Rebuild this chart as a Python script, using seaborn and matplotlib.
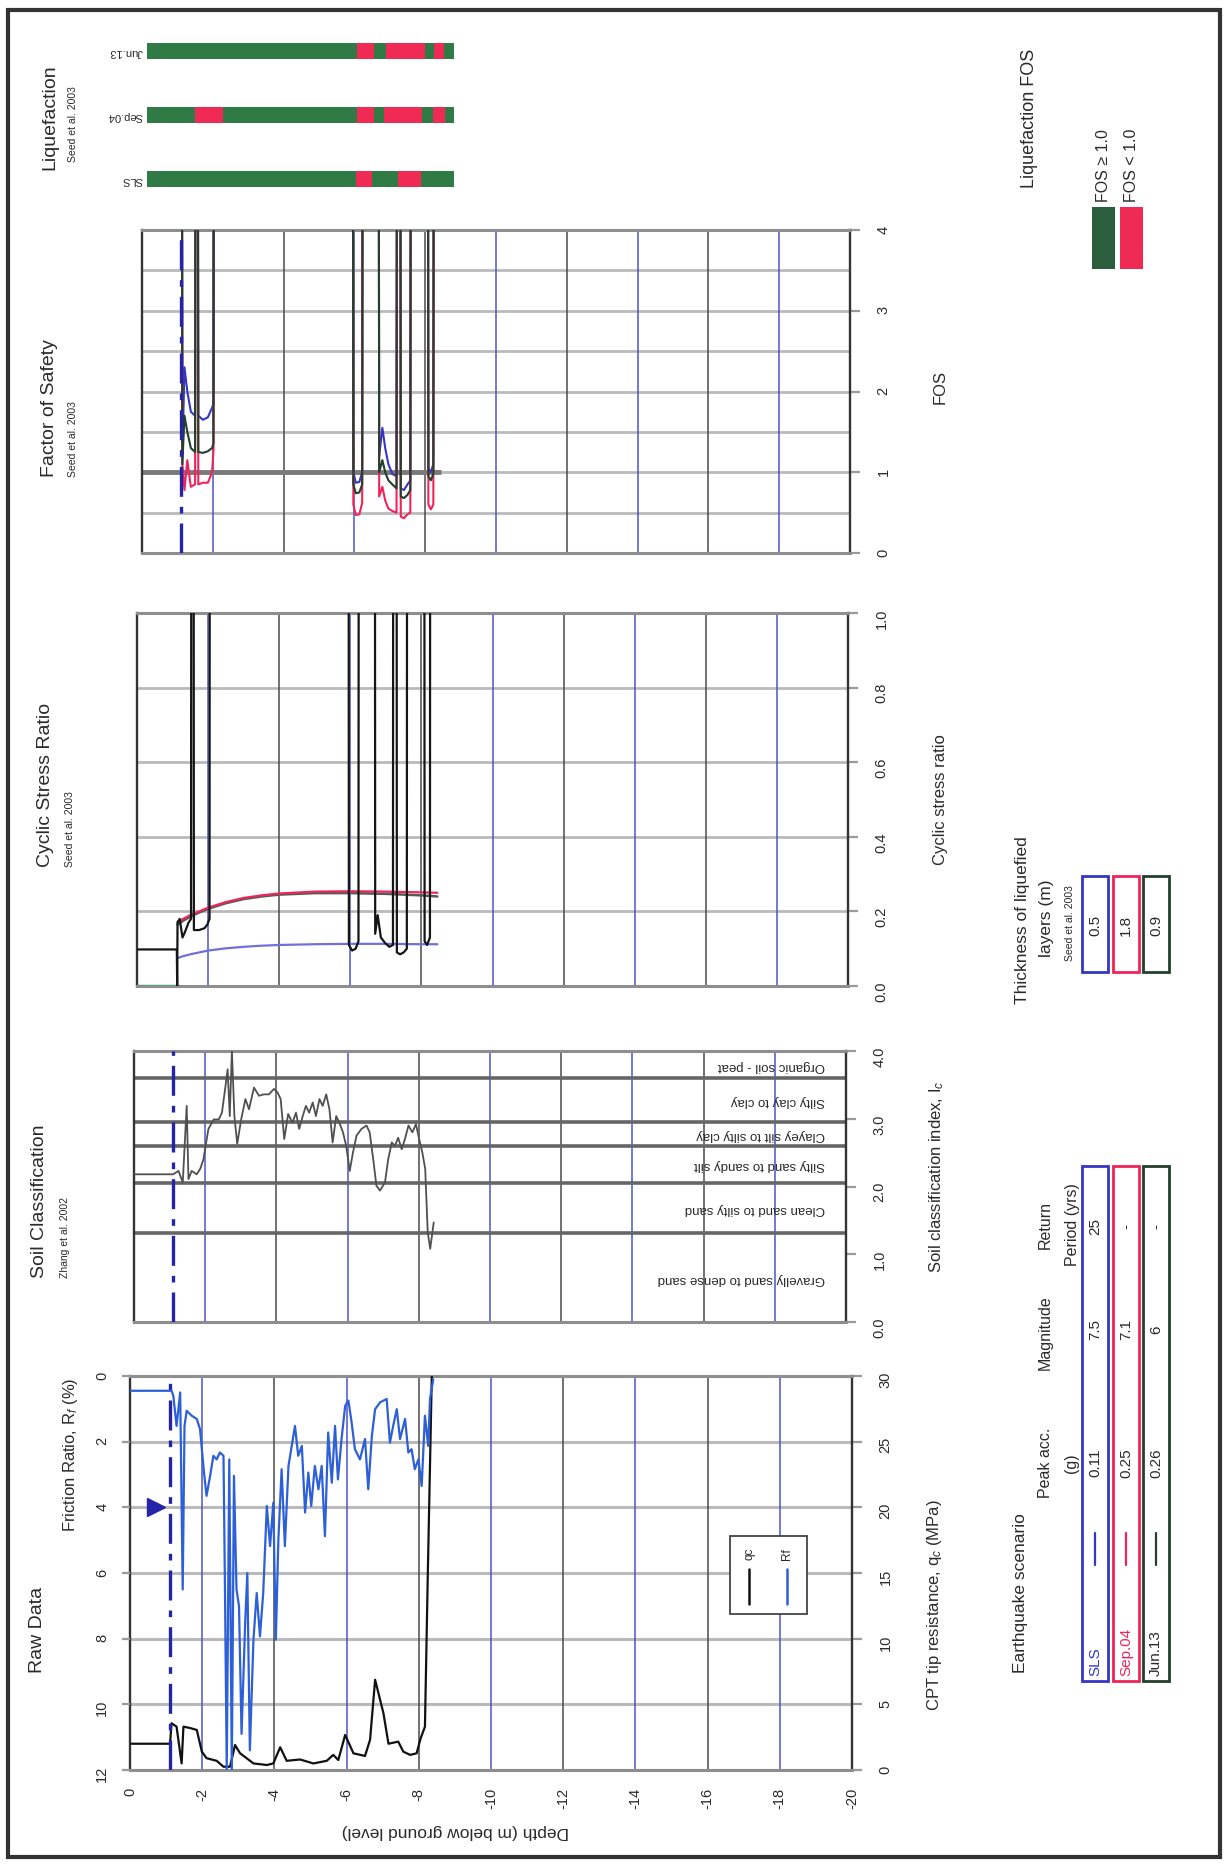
import numpy as np
import pandas as pd
import seaborn as sns
import matplotlib.pyplot as plt
from matplotlib.patches import Rectangle
from matplotlib.lines import Line2D

# ---- data (depth in m, negative downwards) ----
depth_ticks = [0, -2, -4, -6, -8, -10, -12, -14, -16, -18, -20]
wt_depth = -1.1          # ground water table
wt_marker_rf = 4.0

qc_depth = [0.00, -1.11, -1.15, -1.29, -1.43, -1.48, -1.66, -1.85, -1.99, -2.12, -2.40, -2.59, -2.77, -2.91,
            -3.05, -3.23, -3.42, -3.79, -3.97, -4.16, -4.34, -4.71, -5.08, -5.45, -5.63, -5.77, -5.96, -6.19,
            -6.51, -6.65, -6.79, -7.02, -7.16, -7.43, -7.57, -7.76, -7.94, -8.05, -8.17, -8.25, -8.36]
qc = [2.0, 2.0, 3.56, 3.3, 0.5, 3.3, 3.2, 3.05, 1.4, 0.9, 0.7, 0.25, 0.25, 1.9,
      1.27, 0.9, 0.5, 0.38, 0.5, 1.73, 0.7, 0.8, 0.5, 0.7, 1.15, 0.76, 2.67, 1.27,
      1.07, 2.3, 6.87, 4.33, 2.0, 2.16, 1.4, 1.15, 1.27, 2.4, 3.3, 15.0, 30.0]

rf_depth = [0.00, -1.15, -1.20, -1.29, -1.39, -1.46, -1.51, -1.57, -1.71, -1.85,
            -1.94, -2.05, -2.12, -2.22, -2.31, -2.40, -2.49, -2.59, -2.63, -2.68,
            -2.75, -2.82, -2.88, -2.95, -3.02, -3.09, -3.19, -3.25, -3.32, -3.42,
            -3.51, -3.60, -3.69, -3.79, -3.88, -3.97, -4.04, -4.11, -4.20, -4.29,
            -4.39, -4.48, -4.57, -4.66, -4.76, -4.85, -4.94, -5.02, -5.12, -5.22,
            -5.31, -5.40, -5.49, -5.59, -5.68, -5.76, -5.86, -5.96, -6.05, -6.14,
            -6.23, -6.37, -6.51, -6.60, -6.70, -6.79, -6.93, -7.11, -7.20, -7.29,
            -7.39, -7.48, -7.62, -7.71, -7.80, -7.89, -7.99, -8.08, -8.17, -8.26,
            -8.31, -8.40]
rf = [0.45, 0.45, 0.60, 1.52, 0.50, 6.50, 1.52, 1.06, 1.21, 1.31,
      1.62, 2.94, 3.65, 3.04, 2.43, 2.54, 2.33, 2.43, 6.40, 12.0,
      2.54, 12.0, 3.04, 6.50, 7.01, 10.9, 7.52, 6.00, 11.4, 8.03,
      6.61, 7.93, 6.61, 3.96, 5.18, 3.86, 8.03, 4.98, 2.84, 5.18,
      2.74, 2.13, 1.52, 2.43, 2.13, 4.16, 2.94, 3.96, 2.74, 3.45,
      2.74, 4.88, 1.72, 3.25, 1.52, 3.15, 1.92, 0.91, 0.75, 1.42,
      2.23, 2.54, 1.92, 3.45, 1.82, 1.01, 0.80, 0.70, 2.03, 1.52,
      1.01, 1.92, 1.31, 2.33, 2.23, 2.84, 2.54, 3.35, 1.21, 2.13,
      0.70, 0.10]

ic_depth = [0.00, -1.10, -1.25, -1.37, -1.48, -1.53, -1.62, -1.76, -1.86, -1.95,
            -2.09, -2.24, -2.38, -2.47, -2.57, -2.63, -2.69, -2.75, -2.82, -2.90,
            -3.01, -3.13, -3.23, -3.37, -3.51, -3.65, -3.79, -3.93, -4.03, -4.12,
            -4.22, -4.33, -4.45, -4.55, -4.64, -4.74, -4.83, -4.92, -5.02, -5.11,
            -5.21, -5.30, -5.40, -5.49, -5.58, -5.68, -5.77, -5.87, -5.96, -6.06,
            -6.15, -6.25, -6.39, -6.53, -6.62, -6.72, -6.81, -6.91, -7.05, -7.14,
            -7.24, -7.33, -7.42, -7.52, -7.61, -7.71, -7.82, -7.92, -8.01, -8.10,
            -8.18, -8.25, -8.32, -8.42]
ic = [2.18, 2.18, 2.23, 2.06, 3.19, 2.11, 2.23, 2.18, 2.26, 2.40,
      2.85, 2.99, 2.99, 3.09, 3.48, 3.73, 3.04, 4.0, 3.04, 2.63,
      2.99, 3.29, 3.14, 3.46, 3.34, 3.36, 3.36, 3.44, 3.39, 3.29,
      2.70, 3.07, 2.94, 3.09, 2.85, 3.04, 3.19, 3.09, 3.24, 3.04,
      3.29, 3.19, 3.36, 3.14, 2.65, 3.04, 2.94, 2.80, 2.60, 2.23,
      2.50, 2.75, 2.85, 2.90, 2.80, 2.40, 2.01, 1.94, 2.06, 2.40,
      2.65, 2.60, 2.72, 2.55, 2.70, 2.90, 2.80, 2.92, 2.70, 2.50,
      2.26, 1.33, 1.08, 1.47]

zone_bounds = [0.0, 1.31, 2.05, 2.60, 2.95, 3.60, 4.0]
zone_names = ['Gravelly sand to dense sand', 'Clean sand to silty sand', 'Silty sand to sandy silt',
              'Clayey silt to silty clay', 'Silty clay to clay', 'Organic soil - peat']

# cyclic stress ratio per scenario and cyclic resistance (off-chart values = 2)
csr_depth = [-1.14, -1.3, -1.5, -1.75, -2.0, -2.5, -3.0, -3.5, -4.0, -5.0, -6.0, -7.0, -8.0, -8.45]
csr_sls = [0.075, 0.08, 0.085, 0.09, 0.095, 0.101, 0.105, 0.108, 0.11, 0.112, 0.113, 0.113, 0.112, 0.112]
csr_sep04 = [0.172, 0.18, 0.19, 0.20, 0.21, 0.225, 0.236, 0.243, 0.248, 0.253, 0.254, 0.253, 0.251, 0.25]
csr_jun13 = [0.165, 0.175, 0.186, 0.197, 0.207, 0.222, 0.233, 0.24, 0.245, 0.249, 0.249, 0.247, 0.243, 0.24]
csr_dry_depth = [0.0, -1.13]
csr_dry = [0.0, 0.0]

crr_depth = [0, -1.12, -1.13, -1.14, -1.20, -1.28, -1.35, -1.45, -1.52, -1.53, -1.59, -1.60, -1.75, -1.90, -1.98, -2.04, -2.05,
             -5.95, -5.96, -6.05, -6.15, -6.23, -6.24,
             -6.69, -6.70, -6.77, -6.86, -6.98, -7.10, -7.20, -7.21,
             -7.30, -7.31, -7.40, -7.50, -7.59, -7.60,
             -8.08, -8.09, -8.16, -8.24, -8.25]
crr = [0.098, 0.098, 0.0, 0.17, 0.18, 0.13, 0.145, 0.17, 0.18, 2, 2, 0.15, 0.15, 0.155, 0.165, 0.18, 2,
       2, 0.11, 0.095, 0.10, 0.12, 2,
       2, 0.14, 0.19, 0.13, 0.115, 0.105, 0.11, 2,
       2, 0.09, 0.085, 0.09, 0.10, 2,
       2, 0.12, 0.11, 0.13, 2]

# factor of safety per scenario (off-chart values = 5)
fos_depth = [-1.13, -1.14, -1.20, -1.28, -1.38, -1.50, -1.51, -1.58, -1.59, -1.72, -1.86, -1.98, -2.02, -2.03,
             -5.96, -5.97, -6.04, -6.14, -6.22, -6.23,
             -6.69, -6.70, -6.79, -6.87, -6.96, -7.07, -7.19, -7.20,
             -7.30, -7.31, -7.40, -7.50, -7.58, -7.59,
             -8.08, -8.09, -8.16, -8.23, -8.24]
fos_sls = [5, 1.2, 2.3, 2.0, 1.75, 1.7, 5, 5, 1.7, 1.65, 1.68, 1.8, 1.85, 5,
           5, 1.0, 0.87, 0.88, 1.0, 5,
           5, 1.2, 1.55, 1.3, 1.1, 0.98, 0.95, 5,
           5, 0.8, 0.78, 0.85, 0.9, 5,
           5, 1.05, 1.0, 1.1, 5]
fos_sep04 = [5, 1.1, 0.78, 1.15, 0.82, 0.85, 5, 5, 0.85, 0.87, 0.87, 1.0, 1.28, 5,
             5, 0.6, 0.47, 0.48, 0.62, 5,
             5, 0.7, 0.82, 0.65, 0.55, 0.52, 0.5, 5,
             5, 0.45, 0.43, 0.48, 0.5, 5,
             5, 0.6, 0.54, 0.6, 5]
fos_jun13 = [5, 1.1, 1.7, 1.5, 1.3, 1.25, 5, 5, 1.25, 1.24, 1.26, 1.3, 1.36, 5,
             5, 0.85, 0.74, 0.75, 0.85, 5,
             5, 1.0, 1.15, 1.0, 0.9, 0.85, 0.8, 5,
             5, 0.7, 0.68, 0.72, 0.78, 5,
             5, 0.95, 0.9, 0.98, 5]
fos_limit = 1.0
fos_line_end = -8.45

# liquefaction strips
liq_names = ['Jun.13', 'Sep.04', 'SLS']
liq_end = -8.65
liq_red = [[(-5.91, -6.39), (-6.72, -7.82), (-8.09, -8.37)],
           [(-1.34, -2.13), (-5.91, -6.39), (-6.67, -7.76), (-8.07, -8.40)],
           [(-5.88, -6.33), (-7.06, -7.73)]]

# earthquake scenarios
eq_names = ['SLS', 'Sep.04', 'Jun.13']
peak_acc = [0.11, 0.25, 0.26]
magnitude = [7.5, 7.1, 6]
return_period = ['25', '-', '-']
thickness_m = [0.5, 1.8, 0.9]

C_SLS, C_SEP, C_JUN = '#3436c4', '#f0245a', '#22402b'
eq_colors = [C_SLS, C_SEP, C_JUN]
C_RF = '#2d5fd8'
C_WT = '#2424a8'
GRID = '#bababa'
TXT = '#2a2a2a'
VCOL = ['#4a55c8', '#4a4a4a']

sns.set_theme(style='white')
plt.rcParams['font.family'] = ['Liberation Sans', 'DejaVu Sans']
plt.rcParams['mathtext.fontset'] = 'custom'
plt.rcParams['mathtext.rm'] = 'Liberation Sans'
plt.rcParams['mathtext.it'] = 'Liberation Sans:italic'

W, H = 1224, 1865
fig = plt.figure(figsize=(W / 100, H / 100), dpi=100)


def box(x1, y1, x2, y2):
    return [x1 / W, 1 - y2 / H, (x2 - x1) / W, (y2 - y1) / H]


def put(x, y, s, **kw):
    kw.setdefault('color', TXT)
    return fig.text(x / W, 1 - y / H, s, **kw)


def vtitle(x, y, s, size, **kw):
    # rotated text starting at y (bottom) and running upwards
    return put(x, y, s, rotation=90, rotation_mode='anchor', ha='left', va='center', fontsize=size, **kw)


def vlabel(x, y, s, size, **kw):
    return put(x, y, s, rotation=90, ha='center', va='center', fontsize=size, **kw)


def frame(x1, y1, x2, y2, **kw):
    fig.add_artist(Rectangle((x1 / W, 1 - y2 / H), (x2 - x1) / W, (y2 - y1) / H,
                             transform=fig.transFigure, **kw))


def right_ticks(ax):
    ax.yaxis.tick_right()
    ax.tick_params(axis='y', labelrotation=90, length=7, color='#9a9a9a', width=1.6,
                   pad=12, labelsize=10.5, labelcolor=TXT, left=False, right=True,
                   labelleft=False, labelright=True)


def style_panel(ax, ylim, yticks, ylabels):
    ax.set_xlim(0, -20)
    ax.set_ylim(*ylim)
    ax.set_axisbelow(True)
    for s in ['left', 'right']:
        ax.spines[s].set_color('#333333')
        ax.spines[s].set_linewidth(1.7)
    for s in ['top', 'bottom']:
        ax.spines[s].set_color('#8e8e8e')
        ax.spines[s].set_linewidth(2.2)
    ax.set_xticks(depth_ticks)
    ax.set_xticklabels([])
    ax.tick_params(axis='x', length=0)
    ax.set_yticks(yticks)
    ax.set_yticklabels(ylabels)
    right_ticks(ax)
    for i, d in enumerate(depth_ticks[1:-1]):
        ax.axvline(d, color=VCOL[i % 2], lw=1.1, zorder=1)
    ax.set_xlabel('')
    ax.set_ylabel('')


def line(ax, x, y, color, lw=1.5, z=3):
    sns.lineplot(x=x, y=y, ax=ax, color=color, linewidth=lw, estimator=None, sort=False,
                 legend=False, zorder=z)


def water_table(ax):
    ax.axvline(wt_depth, color=C_WT, lw=2.4, dashes=(9, 3, 2, 3), zorder=4)


# ---- liquefaction strips ----
ax_liq = fig.add_axes(box(147, 20, 857, 212))
ax_liq.set_xlim(0, -20)
ax_liq.set_ylim(2.5, -0.5)
ax_liq.axis('off')
for i, name in enumerate(liq_names):
    ax_liq.barh(i, liq_end, left=0, height=0.24, color='#2f7a45', lw=0)
    for a, b in liq_red[i]:
        ax_liq.barh(i, b - a, left=a, height=0.24, color='#ef2a55', lw=0)
    ax_liq.text(0.12, i, name, rotation=180, rotation_mode='anchor', ha='left', va='center',
                fontsize=8, color=TXT)

# ---- factor of safety ----
ax_fos = fig.add_axes(box(142, 231, 850, 554))
style_panel(ax_fos, (0, 4), [0, 1, 2, 3, 4], ['0', '1', '2', '3', '4'])
ax_fos.set_yticks(np.arange(0.5, 4, 0.5), minor=True)
ax_fos.tick_params(axis='y', which='minor', length=0)
ax_fos.grid(axis='y', which='both', color=GRID, lw=2.0)
ax_fos.hlines(fos_limit, 0, fos_line_end, color='#7a7a7a', lw=3.5, zorder=2)
line(ax_fos, fos_depth, fos_sls, C_SLS)
line(ax_fos, fos_depth, fos_sep04, C_SEP)
line(ax_fos, fos_depth, fos_jun13, C_JUN)
water_table(ax_fos)

# ---- cyclic stress ratio ----
ax_csr = fig.add_axes(box(137, 614, 848, 987))
style_panel(ax_csr, (0, 1), [0, 0.2, 0.4, 0.6, 0.8, 1.0], ['0.0', '0.2', '0.4', '0.6', '0.8', '1.0'])
ax_csr.grid(axis='y', color=GRID, lw=2.0)
line(ax_csr, csr_dry_depth, csr_dry, '#5e9c7c', lw=2.5)
line(ax_csr, csr_depth, csr_sls, '#7070dd', lw=1.6)
line(ax_csr, csr_depth, csr_jun13, '#4f5f55', lw=1.8)
line(ax_csr, csr_depth, csr_sep04, C_SEP, lw=1.6)
line(ax_csr, crr_depth, crr, '#151515', lw=1.6, z=4)

# ---- soil classification ----
ax_soil = fig.add_axes(box(134, 1052, 846, 1323))
style_panel(ax_soil, (0, 4), [0, 1, 2, 3, 4], ['0.0', '1.0', '2.0', '3.0', '4.0'])
for b in zone_bounds[1:-1]:
    ax_soil.axhline(b, color='#666666', lw=2.6, zorder=1)
for lo, hi, name in zip(zone_bounds[:-1], zone_bounds[1:], zone_names):
    ax_soil.text(-19.4, (lo + hi) / 2, name, rotation=180, rotation_mode='anchor', ha='left',
                 va='center', fontsize=9.5, color=TXT)
line(ax_soil, ic_depth, ic, '#505050', lw=1.3)
water_table(ax_soil)

# ---- raw data ----
ax_raw = fig.add_axes(box(130, 1377, 852, 1771))
qc_ticks = [0, 5, 10, 15, 20, 25, 30]
style_panel(ax_raw, (0, 30), qc_ticks, [str(v) for v in qc_ticks])
ax_raw.grid(axis='y', color=GRID, lw=2.2)
ax_raw.set_xticklabels([f'{d:g}' for d in depth_ticks])
ax_raw.tick_params(axis='x', length=6, color='#555555', width=1.4, labelrotation=90, pad=6,
                   labelsize=10.5, labelcolor=TXT)
line(ax_raw, qc_depth, qc, '#111111', lw=1.6)
water_table(ax_raw)

ax_rf = ax_raw.twinx()
right_ticks(ax_raw)          # twinx moves the host ticks to the left, put them back
ax_rf.set_ylim(12, 0)
ax_rf.yaxis.tick_left()
ax_rf.set_yticks([0, 2, 4, 6, 8, 10, 12])
ax_rf.tick_params(axis='y', labelrotation=90, length=6, color='#9a9a9a', width=1.6, pad=9,
                  labelsize=10.5, labelcolor=TXT, left=True, right=False, labelleft=True, labelright=False)
for s in ax_rf.spines.values():
    s.set_visible(False)
line(ax_rf, rf_depth, rf, C_RF, lw=1.6)
ax_rf.plot([wt_depth + 0.38], [wt_marker_rf], marker='>', ms=13, color=C_WT, ls='none')
ax_rf.set_ylabel('')
ax_rf.set_xlim(0, -20)

# legend inside raw data panel
frame(730, 1537, 807, 1615, facecolor='white', edgecolor='#444444', lw=1.3)
for xc, col, lab in [(749, '#111111', 'qc'), (787, C_RF, 'Rf')]:
    fig.add_artist(Line2D([xc / W, xc / W], [1 - 1605 / H, 1 - 1570 / H], color=col, lw=1.8,
                          transform=fig.transFigure))
    vlabel(xc, 1554, lab, 8.5)

# ---- titles and axis labels ----
vtitle(50, 170, 'Liquefaction', 14)
vtitle(73, 162, 'Seed et al. 2003', 7.5)
vtitle(50, 477, 'Factor of Safety', 14)
vtitle(73, 477, 'Seed et al. 2003', 7.5)
vtitle(45, 867, 'Cyclic Stress Ratio', 14)
vtitle(70, 867, 'Seed et al. 2003', 7.5)
vtitle(40, 1278, 'Soil Classification', 14)
vtitle(65, 1278, 'Zhang et al. 2002', 7.5)
vtitle(37, 1673, 'Raw Data', 14)
vlabel(70, 1455, 'Friction Ratio, R$_f$ (%)', 12)

vlabel(940, 387, 'FOS', 12)
vlabel(940, 800, 'Cyclic stress ratio', 12)
vlabel(937, 1177, 'Soil classification index, I$_c$', 12)
vlabel(935, 1605, 'CPT tip resistance, q$_c$ (MPa)', 12)
put(455, 1832, 'Depth (m below ground level)', rotation=180, ha='center', va='center', fontsize=12.5)

# ---- liquefaction FOS key ----
vlabel(1030, 118, 'Liquefaction FOS', 13)
frame(1092, 208, 1115, 270, facecolor='#2b5e3c', lw=0)
frame(1120, 208, 1143, 270, facecolor='#ef2a55', lw=0)
vtitle(1104, 202, 'FOS \u2265 1.0', 11.5)
vtitle(1132, 202, 'FOS < 1.0', 11.5)

# ---- thickness of liquefied layers ----
row_x = [(1082, 1108), (1113, 1139), (1143, 1169)]
vlabel(1023, 920, 'Thickness of liquefied', 12.5)
vlabel(1047, 918, 'layers (m)', 12.5)
vlabel(1070, 923, 'Seed et al. 2003', 7.5)
for (x1, x2), col, t in zip(row_x, eq_colors, thickness_m):
    frame(x1, 877, x2, 973, fill=False, edgecolor=col, lw=2)
    vlabel((x1 + x2) / 2, 925, f'{t:g}', 11)

# ---- earthquake scenario table ----
vtitle(1020, 1673, 'Earthquake scenario', 12.5)
vlabel(1045, 1463, 'Peak acc.', 11.5)
vlabel(1072, 1463, '(g)', 11.5)
vlabel(1045, 1333, 'Magnitude', 11.5)
vlabel(1045, 1225, 'Return', 11.5)
vlabel(1072, 1225, 'Period (yrs)', 11.5)
for (x1, x2), col, name, pga, mag, rp in zip(row_x, eq_colors, eq_names, peak_acc, magnitude, return_period):
    xc = (x1 + x2) / 2
    frame(x1, 1167, x2, 1682, fill=False, edgecolor=col, lw=2)
    vtitle(xc, 1676, name, 11, )
    fig.texts[-1].set_color(col if name != 'Jun.13' else TXT)
    fig.add_artist(Line2D([xc / W, xc / W], [1 - 1566 / H, 1 - 1534 / H], color=col, lw=1.6,
                          transform=fig.transFigure))
    vlabel(xc, 1463, f'{pga:.2f}', 11)
    vlabel(xc, 1330, f'{mag:g}', 11)
    vlabel(xc, 1227, rp, 11)

# page border
frame(8, 11, 1220, 1858, fill=False, edgecolor='#333333', lw=3)

fig.savefig('out.png', dpi=100, facecolor='white')
